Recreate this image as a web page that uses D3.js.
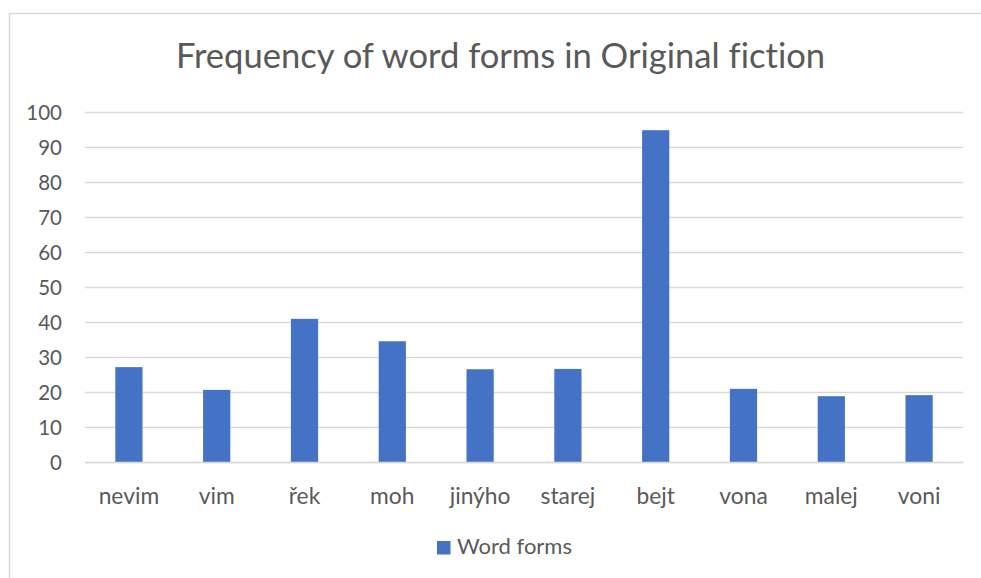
<!DOCTYPE html>
<html>
<head>
<meta charset="utf-8">
<script src="https://cdn.jsdelivr.net/npm/d3@7"></script>
<style>
html,body{margin:0;padding:0;background:#fff;}
svg{display:block;}
text{font-family:Lato,"Open Sans",sans-serif;fill:#595959;font-variant-ligatures:none;}
</style>
</head>
<body>
<svg id="chart" width="981" height="578"></svg>
<script>
const categories = ["nevim","vim","řek","moh","jinýho","starej","bejt","vona","malej","voni"];
const values = [27.1, 20.6, 40.9, 34.5, 26.5, 26.6, 94.8, 20.9, 18.8, 19.1];
const yTicks = [0,10,20,30,40,50,60,70,80,90,100];
const seriesName = "Word forms";
const title = "Frequency of word forms in Original fiction";

const svg = d3.select("#chart");
const plot = {left:85, right:963, top:112, bottom:462};

// outer chart border (cropped at right/bottom)
svg.append("rect").attr("x",9.5).attr("y",13.5).attr("width",1100).attr("height",700)
  .attr("fill","none").attr("stroke","#d9d9d9").attr("stroke-width",1.5);

const x = d3.scaleBand().domain(categories).range([plot.left, plot.right])
  .paddingInner(0.69).paddingOuter(0.345);
const y = d3.scaleLinear().domain([0,100]).range([plot.bottom, plot.top]);

// gridlines + y labels
const yAxis = d3.axisLeft(y).tickValues(yTicks).tickSize(-(plot.right-plot.left)).tickPadding(23).tickFormat(d3.format("d"));
const gy = svg.append("g").attr("transform",`translate(${plot.left},0)`).call(yAxis);
gy.select(".domain").remove();
gy.selectAll(".tick line").attr("stroke","#d9d9d9").attr("stroke-width",1.5);
gy.selectAll(".tick text").attr("font-size",20.5).attr("fill","#595959").attr("dy","0.36em");

// bars
svg.append("g").selectAll("rect").data(values).join("rect")
  .attr("x",(d,i)=>x(categories[i]))
  .attr("width",x.bandwidth())
  .attr("y",d=>y(d))
  .attr("height",d=>y(0)-y(d))
  .attr("fill","#4472c4");

// x axis
const xAxis = d3.axisBottom(x).tickSize(0).tickPadding(26);
const gx = svg.append("g").attr("transform",`translate(0,${plot.bottom})`).call(xAxis);
gx.select(".domain").attr("stroke","#d9d9d9").attr("stroke-width",1.5);
gx.selectAll(".tick text").attr("font-size",22.8).attr("fill","#595959");

// title
svg.append("text").attr("x",500.5).attr("y",68).attr("text-anchor","middle")
  .attr("font-size",34.6).text(title);

// legend
const lg = svg.append("g");
lg.append("rect").attr("x",437).attr("y",541).attr("width",13.5).attr("height",13.5).attr("fill","#4472c4");
lg.append("text").attr("x",457).attr("y",554).attr("font-size",22).text(seriesName);
</script>
</body>
</html>
